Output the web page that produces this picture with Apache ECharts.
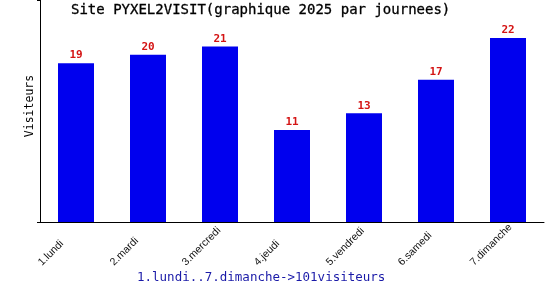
<!DOCTYPE html>
<html><head><meta charset="utf-8">
<script src="https://cdn.jsdelivr.net/npm/echarts@6/dist/echarts.min.js"></script>
<style>html,body{margin:0;padding:0;background:#fff}#c{width:550px;height:300px}</style>
</head><body><div id="c"></div>
<script>
const categories = ['1.lundi','2.mardi','3.mercredi','4.jeudi','5.vendredi','6.samedi','7.dimanche'];
const visitors = [19,20,21,11,13,17,22];
const titleText = 'Site PYXEL2VISIT(graphique 2025 par journees)';
const footerText = '1.lundi..7.dimanche->101visiteurs';
const yName = 'Visiteurs';

const chart = echarts.init(document.getElementById('c'), null, {renderer:'canvas'});
chart.setOption({
  animation:false,
  backgroundColor:'#fff',
  title:[{
    text:titleText, left:71, top:3, padding:0,
    textStyle:{fontFamily:'DejaVu Sans Mono', fontSize:14, fontWeight:'normal', color:'#000', textBorderColor:'#000', textBorderWidth:0.3}
  },{
    text:footerText, left:137, top:271, padding:0,
    textStyle:{fontFamily:'DejaVu Sans Mono', fontSize:12.5, fontWeight:'normal', color:'#1a1aa8'}
  }],
  graphic:[{
    type:'text', rotation:Math.PI/2, x:30, y:106,
    style:{text:yName, font:'11.5px "DejaVu Sans Mono"', fill:'#000', align:'center', verticalAlign:'middle'}
  }],
  grid:[
    {left:40, right:6, top:0, bottom:78},
    {left:4, right:42, top:0, bottom:78}
  ],
  xAxis:[{
    type:'category', data:categories, gridIndex:0,
    axisLine:{lineStyle:{color:'#000', width:1}},
    axisTick:{show:false}, axisLabel:{show:false}
  },{
    type:'category', data:categories, gridIndex:1,
    axisLine:{show:false}, axisTick:{show:false},
    axisLabel:{rotate:45, margin:42, interval:0, align:'left', verticalAlign:'middle',
      fontFamily:'Liberation Sans', fontSize:10.5, color:'#111'}
  }],
  yAxis:[{
    type:'value', gridIndex:0, min:0, max:26.55, interval:100,
    axisLine:{show:true, lineStyle:{color:'#000'}},
    axisTick:{show:true, length:3, lineStyle:{color:'#000'}},
    axisLabel:{show:false}, splitLine:{show:false}
  },{
    type:'value', gridIndex:1, min:0, max:26.55, show:false
  }],
  series:[{
    type:'bar', data:visitors, xAxisIndex:0, yAxisIndex:0,
    barWidth:36, itemStyle:{color:'#0000ee'},
    label:{show:true, position:'top', distance:2, fontFamily:'DejaVu Sans Mono', fontWeight:'bold', fontSize:11, color:'#d41414'}
  }]
});
</script></body></html>
